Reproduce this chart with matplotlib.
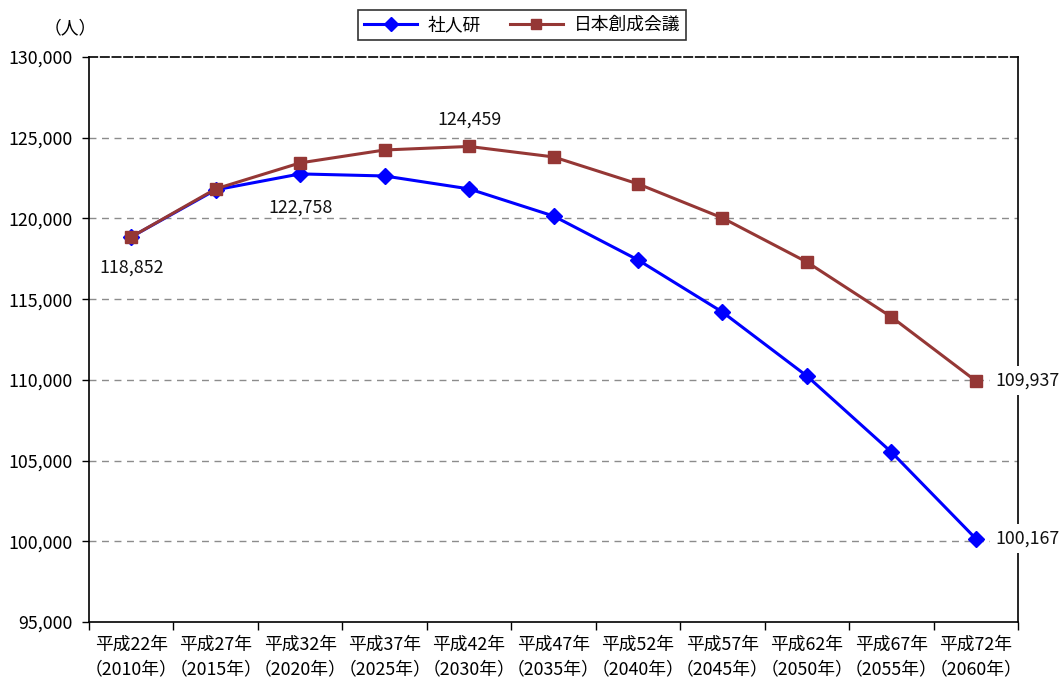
import matplotlib
matplotlib.use("Agg")
import matplotlib.pyplot as plt
from matplotlib.ticker import FuncFormatter, FixedLocator

plt.rcParams['font.family'] = ['Noto Sans CJK JP', 'DejaVu Sans']

categories = ["平成22年\n（2010年）", "平成27年\n（2015年）", "平成32年\n（2020年）",
              "平成37年\n（2025年）", "平成42年\n（2030年）", "平成47年\n（2035年）",
              "平成52年\n（2040年）", "平成57年\n（2045年）", "平成62年\n（2050年）",
              "平成67年\n（2055年）", "平成72年\n（2060年）"]
ipss = [118852, 121770, 122758, 122630, 121830, 120150, 117430, 114200, 110240, 105530, 100167]
jpc = [118852, 121830, 123440, 124240, 124459, 123810, 122140, 120030, 117300, 113900, 109937]
series_names = ["社人研", "日本創成会議"]
y_ticks = [95000, 100000, 105000, 110000, 115000, 120000, 125000, 130000]

blue = "#0000FF"
brown = "#953735"
fs = 12.8

fig = plt.figure(figsize=(10.62, 6.81), dpi=100)
ax = fig.add_axes([89 / 1062, 59 / 681, 929 / 1062, 565 / 681])

x = list(range(len(categories)))
ax.plot(x, ipss, color=blue, lw=2.2, marker="D", ms=8.5, mec=blue, mfc=blue,
        label=series_names[0], zorder=4)
ax.plot(x, jpc, color=brown, lw=2.2, marker="s", ms=8.5, mec=brown, mfc=brown,
        label=series_names[1], zorder=5)

ax.set_xlim(-0.5, len(categories) - 0.5)
ax.set_ylim(y_ticks[0], y_ticks[-1])

ax.yaxis.set_major_locator(FixedLocator(y_ticks))
ax.yaxis.set_major_formatter(FuncFormatter(lambda v, p: f"{int(v):,}"))
ax.tick_params(axis="y", direction="out", length=5, width=1, labelsize=fs, pad=7)

ax.set_xticks(x)
ax.set_xticklabels(categories, fontsize=fs, linespacing=1.45)
ax.set_xticks([i - 0.5 for i in range(len(categories) + 1)], minor=True)
ax.tick_params(axis="x", which="major", length=0, pad=10)
ax.tick_params(axis="x", which="minor", direction="out", length=6, width=1)

for v in y_ticks[1:-1]:
    ax.axhline(v, color="#8c8c8c", lw=1, ls=(0, (5, 4)), zorder=1)

for side in ["left", "bottom", "right"]:
    ax.spines[side].set_color("black")
    ax.spines[side].set_linewidth(1.2)
ax.spines["top"].set_color("black")
ax.spines["top"].set_linewidth(1.2)
ax.spines["top"].set_linestyle((0, (5, 2)))

lbl = dict(fontsize=fs, color="#111111", zorder=10)
ax.annotate(f"{ipss[0]:,}", (0, ipss[0]), xytext=(0, -22), textcoords="offset points",
            ha="center", va="center", **lbl)
ax.annotate(f"{ipss[2]:,}", (2, ipss[2]), xytext=(0, -24), textcoords="offset points",
            ha="center", va="center", **lbl)
ax.annotate(f"{jpc[4]:,}", (4, jpc[4]), xytext=(0, 19), textcoords="offset points",
            ha="center", va="center", **lbl)
for val in (jpc[-1], ipss[-1]):
    t = ax.annotate(f"{val:,}", (10, val), xytext=(14, 0), textcoords="offset points",
                    ha="left", va="center", annotation_clip=False, **lbl)
    t.set_bbox(dict(facecolor="white", edgecolor="none", pad=4))
    t.set_clip_on(False)

fig.text(70 / 1062, 1 - 28 / 681, "（人）", fontsize=fs, ha="center", va="center")

leg = fig.legend(loc="upper center", bbox_to_anchor=(522 / 1062, 1 - 10 / 681), ncol=2,
                 fontsize=fs, frameon=True, fancybox=False, edgecolor="black",
                 handlelength=3.0, columnspacing=1.6, borderpad=0.35, borderaxespad=0,
                 handletextpad=0.6, markerscale=0.85)
leg.get_frame().set_linewidth(1.2)

fig.savefig("out.png", dpi=100)
